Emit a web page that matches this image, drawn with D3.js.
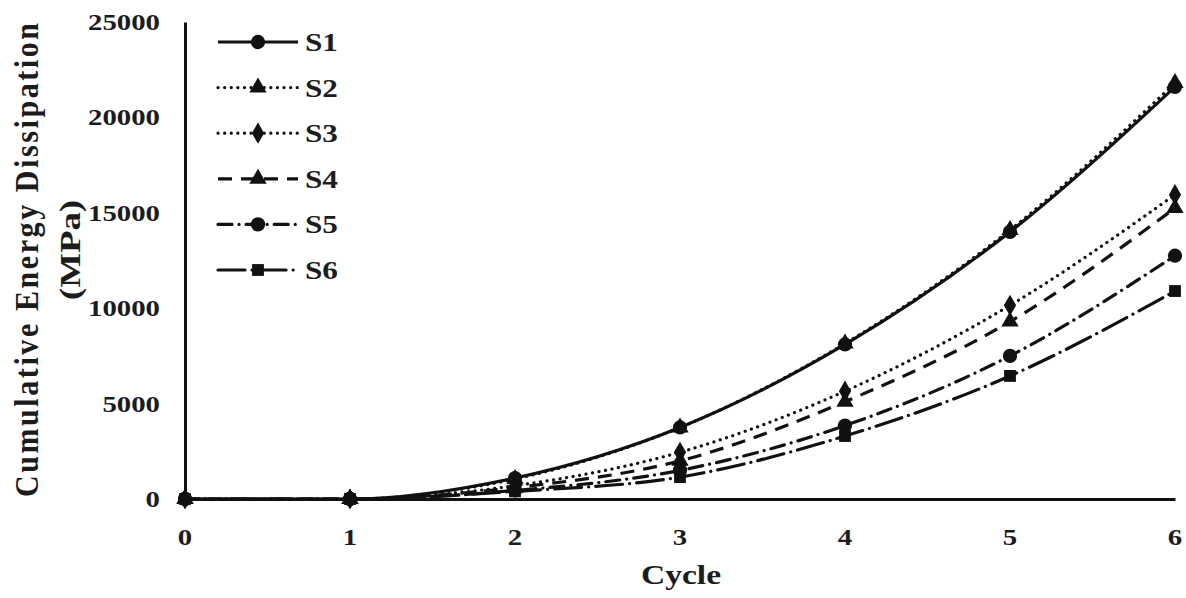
<!DOCTYPE html>
<html>
<head>
<meta charset="utf-8">
<script src="https://cdn.jsdelivr.net/npm/d3@7"></script>
<style>
  html, body { margin: 0; padding: 0; background: #fff; }
  svg text { font-family: "Liberation Serif", "Times New Roman", serif; font-weight: bold; fill: #1c1c1c; }
</style>
</head>
<body>
<svg id="chart" width="1186" height="598"></svg>
<script>
// Cumulative energy dissipation per loading cycle for six specimens
const cycles = [0, 1, 2, 3, 4, 5, 6];
const seriesNames = ["S1", "S2", "S3", "S4", "S5", "S6"];
const s1 = [0, 0, 1100, 3750, 8100, 14000, 21600];
const s2 = [0, 0, 1050, 3750, 8150, 14100, 21800];
const s3 = [0, 0, 700, 2450, 5650, 10150, 15950];
const s4 = [0, 0, 600, 2000, 5100, 9300, 15250];
const s5 = [0, 0, 450, 1500, 3850, 7500, 12750];
const s6 = [0, 0, 400, 1150, 3300, 6450, 10900];
const yTicks = [0, 5000, 10000, 15000, 20000, 25000];
const xTicks = [0, 1, 2, 3, 4, 5, 6];

const seriesValues = [s1, s2, s3, s4, s5, s6];
const markers = ["circle", "triangle", "diamond", "triangle", "circle", "square"];
const dashes = [null, "0.1,6.5", "0.1,6.5", "14,9", "14,7,0.1,7", "27,7,0.1,7"];
const caps = ["butt", "round", "round", "butt", "round", "round"];

const svg = d3.select("#chart");
const x = d3.scaleLinear().domain([0, 6]).range([185, 1175]);
const y = d3.scaleLinear().domain([0, 25000]).range([499, 22]);

const symbolType = {
  circle: d3.symbolCircle,
  triangle: d3.symbolTriangle,
  diamond: d3.symbolDiamond,
  square: d3.symbolSquare
};
const symbolSize = { circle: 160, triangle: 130, diamond: 130, square: 140 };
const stretch = 1.2;

// axes (lines only, labels drawn separately)
const xAxis = d3.axisBottom(x).tickValues(xTicks).tickSize(0).tickFormat("");
const yAxis = d3.axisLeft(y).tickValues(yTicks).tickSize(0).tickFormat("");
svg.append("g").attr("transform", `translate(0,${y(0)})`).call(xAxis)
  .select(".domain").attr("stroke", "#111").attr("stroke-width", 3);
svg.append("g").attr("transform", `translate(${x(0)},0)`).call(yAxis)
  .select(".domain").attr("stroke", "#111").attr("stroke-width", 3);

// tick labels
svg.append("g").selectAll("text").data(xTicks).join("text")
  .attr("transform", d => `translate(${x(d)},545) scale(${stretch},1)`)
  .attr("text-anchor", "middle").attr("font-size", 24)
  .text(d => d);
svg.append("g").selectAll("text").data(yTicks).join("text")
  .attr("transform", d => `translate(160,${y(d) + 8}) scale(${stretch},1)`)
  .attr("text-anchor", "end").attr("font-size", 24)
  .text(d => d);

// axis titles
svg.append("text")
  .attr("transform", `translate(681,584) scale(${stretch},1)`)
  .attr("text-anchor", "middle").attr("font-size", 28).text("Cycle");
svg.append("text")
  .attr("transform", "translate(38,260) rotate(-90) scale(1,1.1)")
  .attr("text-anchor", "middle").attr("font-size", 30)
  .attr("textLength", 474).attr("lengthAdjust", "spacing")
  .text("Cumulative Energy Dissipation");
svg.append("text")
  .attr("transform", "translate(80,250) rotate(-90) scale(1,1.05)")
  .attr("text-anchor", "middle").attr("font-size", 28)
  .attr("textLength", 100).attr("lengthAdjust", "spacingAndGlyphs")
  .text("(MPa)");

// series lines
const line = d3.line()
  .x((d, i) => x(cycles[i]))
  .y(d => y(d))
  .curve(d3.curveMonotoneX);

const plot = svg.append("g");
seriesValues.forEach((vals, k) => {
  plot.append("path")
    .attr("d", line(vals))
    .attr("fill", "none")
    .attr("stroke", "#111")
    .attr("stroke-width", 3.2)
    .attr("stroke-linecap", caps[k])
    .attr("stroke-dasharray", dashes[k]);
});
seriesValues.forEach((vals, k) => {
  const m = markers[k];
  plot.append("g").selectAll("path").data(vals).join("path")
    .attr("transform", (d, i) => `translate(${x(cycles[i])},${y(d)})`)
    .attr("d", d3.symbol().type(symbolType[m]).size(symbolSize[m]))
    .attr("fill", "#111");
});

// legend
const legend = svg.append("g");
const rowY = d3.scaleLinear().domain([0, 5]).range([42, 270]);
seriesNames.forEach((name, k) => {
  const g = legend.append("g").attr("transform", `translate(0,${rowY(k)})`);
  g.append("line")
    .attr("x1", 218).attr("x2", 298).attr("y1", 0).attr("y2", 0)
    .attr("stroke", "#111").attr("stroke-width", 3.2)
    .attr("stroke-linecap", caps[k])
    .attr("stroke-dasharray", dashes[k]);
  const m = markers[k];
  g.append("path")
    .attr("transform", "translate(258,0)")
    .attr("d", d3.symbol().type(symbolType[m]).size(symbolSize[m]))
    .attr("fill", "#111");
  g.append("text")
    .attr("transform", `translate(305,9) scale(${stretch},1)`)
    .attr("font-size", 26).text(name);
});
</script>
</body>
</html>
